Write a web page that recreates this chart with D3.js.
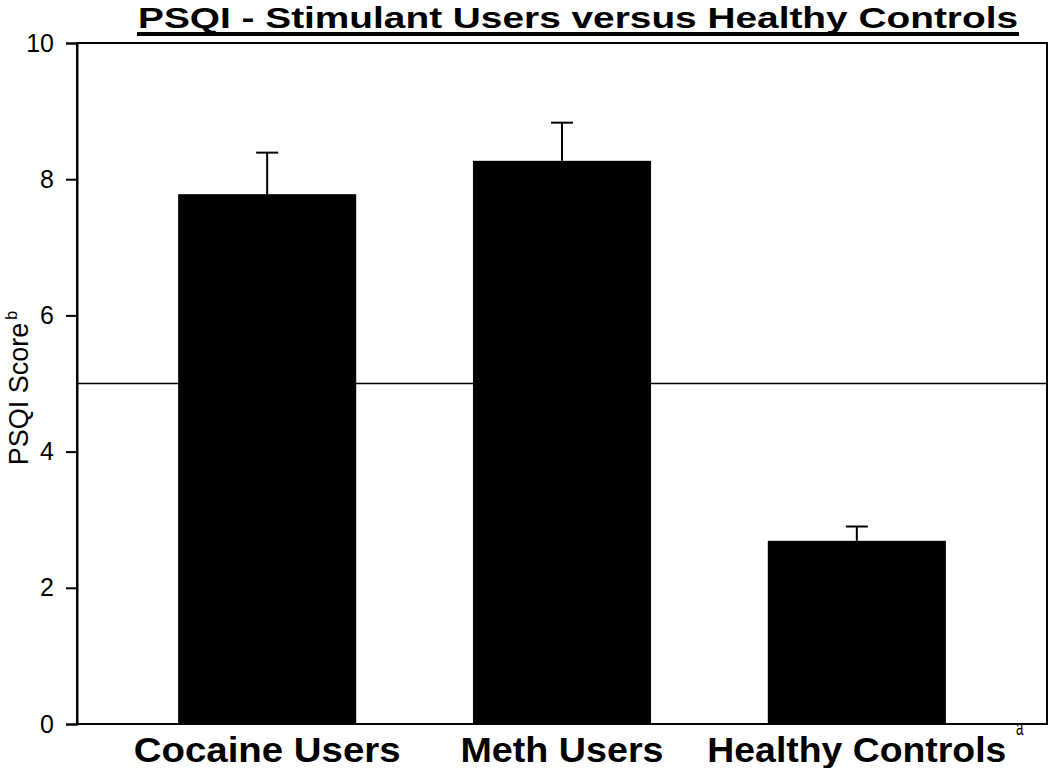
<!DOCTYPE html>
<html>
<head>
<meta charset="utf-8">
<script src="https://cdn.jsdelivr.net/npm/d3@7"></script>
<style>
  body { margin: 0; background: #fff; }
  svg text { font-family: "Liberation Sans", Arial, sans-serif; fill: #000; }
</style>
</head>
<body>
<div id="chart"></div>
<script>
// values
const groups = ['Cocaine Users', 'Meth Users', 'Healthy Controls']
const means = [7.78, 8.27, 2.69]
const errors = [0.61, 0.56, 0.21]
const yTicks = [0, 2, 4, 6, 8, 10]
const cutoff = 5

const width = 1050
	, height = 768
	, margin = { top: 43, right: 3, bottom: 44, left: 77 }

const svg = d3.select('#chart').append('svg')
	.attr('width', width)
	.attr('height', height)

const x = d3.scaleBand()
	.domain(groups)
	.range([margin.left, width - margin.right])
	.paddingInner(0.396)
	.paddingOuter(0.343)

const y = d3.scaleLinear()
	.domain([0, 10])
	.range([height - margin.bottom, margin.top])

// title, bold and underlined
svg.append('text')
	.attr('x', 578)
	.attr('y', 28)
	.attr('text-anchor', 'middle')
	.style('font-weight', 'bold')
	.style('font-size', '30px')
	.attr('textLength', 880)
	.attr('lengthAdjust', 'spacingAndGlyphs')
	.text('PSQI - Stimulant Users versus Healthy Controls')

svg.append('rect')
	.attr('x', 578 - 441)
	.attr('y', 32)
	.attr('width', 882)
	.attr('height', 4)
	.attr('fill', '#000')

// bars
svg.append('g')
	.selectAll('rect')
	.data(groups)
	.join('rect')
	.attr('x', d => x(d))
	.attr('y', (d, i) => y(means[i]))
	.attr('width', x.bandwidth())
	.attr('height', (d, i) => y(0) - y(means[i]))
	.attr('fill', '#000')

// error bars (upper only)
const err = svg.append('g')
	.attr('stroke', '#000')
	.attr('stroke-width', 2)

groups.forEach(function (g, i) {
	const cx = x(g) + x.bandwidth() / 2
	err.append('line')
		.attr('x1', cx).attr('x2', cx)
		.attr('y1', y(means[i])).attr('y2', y(means[i] + errors[i]))
	err.append('line')
		.attr('x1', cx - 11).attr('x2', cx + 11)
		.attr('y1', y(means[i] + errors[i])).attr('y2', y(means[i] + errors[i]))
})

// reference line at cutoff
svg.append('line')
	.attr('x1', margin.left)
	.attr('x2', width - margin.right)
	.attr('y1', y(cutoff))
	.attr('y2', y(cutoff))
	.attr('stroke', '#000')
	.attr('stroke-width', 1.5)

// frame
svg.append('rect')
	.attr('x', margin.left)
	.attr('y', y(10))
	.attr('width', width - margin.right - margin.left)
	.attr('height', y(0) - y(10))
	.attr('fill', 'none')
	.attr('stroke', '#000')
	.attr('stroke-width', 2)

// y axis
const yAxis = svg.append('g')
	.attr('transform', 'translate(' + margin.left + ',0)')
	.call(d3.axisLeft(y).tickValues(yTicks).tickSize(11).tickPadding(12))

yAxis.select('.domain').attr('stroke-width', 2)
yAxis.selectAll('.tick line').attr('stroke-width', 2)
yAxis.selectAll('.tick text')
	.style('font-size', '25px')
	.style('font-family', '"Liberation Sans", Arial, sans-serif')

// y label with superscript
const yLabel = svg.append('text')
	.attr('transform', 'translate(28,' + 388 + ') rotate(-90)')
	.attr('text-anchor', 'middle')
	.style('font-size', '27px')

yLabel.append('tspan').text('PSQI Score')
yLabel.append('tspan')
	.attr('dy', -11)
	.attr('dx', 3)
	.style('font-size', '16px')
	.text('b')

// x labels, the original font is narrow and tall
const labelWidths = [267, 203, 299]

svg.append('g')
	.selectAll('text')
	.data(groups)
	.join('text')
	.attr('x', d => x(d) + x.bandwidth() / 2)
	.attr('y', 762)
	.attr('text-anchor', 'middle')
	.style('font-weight', 'bold')
	.style('font-size', '35px')
	.attr('textLength', (d, i) => labelWidths[i])
	.attr('lengthAdjust', 'spacingAndGlyphs')
	.text(d => d)

// superscript a after the last label, narrow
svg.append('text')
	.attr('transform', 'translate(1016,735) scale(0.6,1)')
	.style('font-size', '22px')
	.text('a')
</script>
</body>
</html>
